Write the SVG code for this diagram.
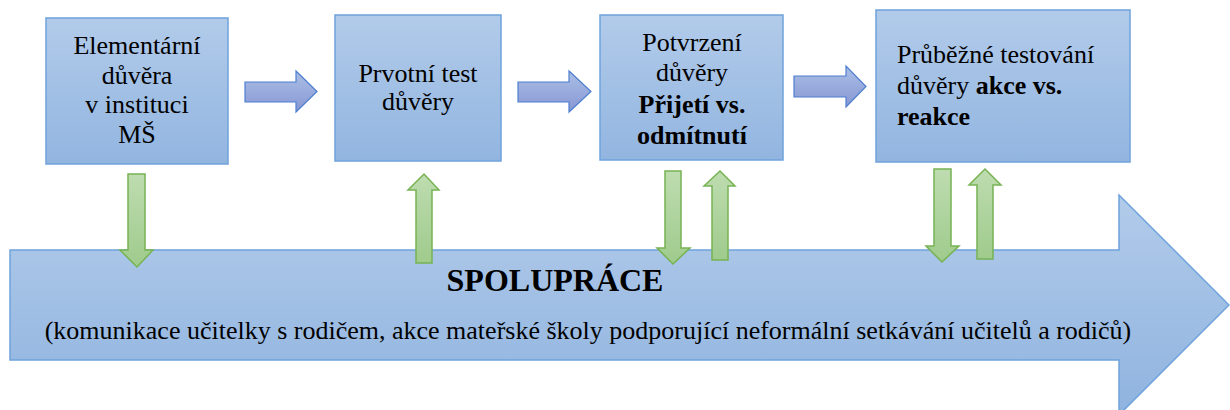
<svg xmlns="http://www.w3.org/2000/svg" width="1230" height="410" viewBox="0 0 1230 410">
  <defs>
    <linearGradient id="boxFill" x1="0" y1="0" x2="0" y2="1">
      <stop offset="0" stop-color="#b2cbea"/>
      <stop offset="1" stop-color="#92b5e0"/>
    </linearGradient>
    <linearGradient id="flowFill" x1="0" y1="0" x2="0" y2="1">
      <stop offset="0" stop-color="#aabfe6"/>
      <stop offset="1" stop-color="#8797d3"/>
    </linearGradient>
    <linearGradient id="greenFill" x1="0" y1="0" x2="0" y2="1">
      <stop offset="0" stop-color="#bedcb0"/>
      <stop offset="1" stop-color="#9fcb8c"/>
    </linearGradient>
    <linearGradient id="bigFill" x1="0" y1="0" x2="0" y2="1">
      <stop offset="0" stop-color="#b2cbea"/>
      <stop offset="1" stop-color="#8fb3df"/>
    </linearGradient>
    <style>
      .box { fill: url(#boxFill); stroke: #6fa3dc; stroke-width: 1.5; }
      .flow { fill: url(#flowFill); stroke: #4f7fcf; stroke-width: 1.2; }
      .green { fill: url(#greenFill); stroke: #77b353; stroke-width: 1.5; }
      .big { fill: url(#bigFill); stroke: #6fa3dc; stroke-width: 1.5; }
      .t { font-size: 26px; }
      .c { text-anchor: middle; }
      .b { font-weight: bold; }
    </style>
  </defs>

  <g font-family="'Liberation Serif', Tinos, 'DejaVu Serif', serif" fill="#000">
  <!-- large cooperation arrow along the bottom -->
  <g id="spoluprace">
    <path class="big" d="M10,250 H1119 V195 L1229,305 L1119,415 V360 H10 Z"/>
    <text x="555" y="291" class="c b" font-size="32">SPOLUPRÁCE</text>
    <text x="588" y="339" class="c" font-size="26">(komunikace učitelky s rodičem, akce mateřské školy podporující neformální setkávání učitelů a rodičů)</text>
  </g>

  <g id="node1">
    <rect class="box" x="46" y="18" width="182" height="146"/>
    <text class="t c" x="137" y="54">Elementární</text>
    <text class="t c" x="137" y="84">důvěra</text>
    <text class="t c" x="137" y="113">v instituci</text>
    <text class="t c" x="137" y="143">MŠ</text>
  </g>

  <g id="node2">
    <rect class="box" x="335" y="15" width="166" height="146"/>
    <text class="t c" x="418" y="82">Prvotní test</text>
    <text class="t c" x="418" y="110">důvěry</text>
  </g>

  <g id="node3">
    <rect class="box" x="600" y="15" width="183" height="145"/>
    <text class="t c" x="692" y="51">Potvrzení</text>
    <text class="t c" x="692" y="81">důvěry</text>
    <text class="t c b" x="692" y="113">Přijetí vs.</text>
    <text class="t c b" x="692" y="144">odmítnutí</text>
  </g>

  <g id="node4">
    <rect class="box" x="876" y="10" width="254" height="152"/>
    <text class="t" x="897" y="63">Průběžné testování</text>
    <text class="t" x="897" y="94">důvěry <tspan class="b">akce vs.</tspan></text>
    <text class="t b" x="897" y="125">reakce</text>
  </g>

  <g id="connectors">
    <!-- process arrows between steps -->
    <path class="flow" d="M245,82 H296 V71 L317,91.5 L296,112 V102 H245 Z"/>
    <path class="flow" d="M518,82 H569 V71 L591,91.5 L569,112 V102 H518 Z"/>
    <path class="flow" d="M794,76 H846 V66 L866,86.5 L846,107 V97 H794 Z"/>
    <!-- exchange arrows between steps and cooperation -->
    <path class="green" d="M128,174 H145 V250 H153 L137,267 L120,250 H128 Z"/>
    <path class="green" d="M416,263 V190 H408 L424,174 L439,190 H432 V263 Z"/>
    <path class="green" d="M665,171 H681 V248 H690 L673,264 L657,248 H665 Z"/>
    <path class="green" d="M712,260 V186 H704 L720,171 L735,186 H728 V260 Z"/>
    <path class="green" d="M934,169 H951 V246 H959 L942,262 L926,246 H934 Z"/>
    <path class="green" d="M977,259 V185 H969 L985,169 L1001,185 H993 V259 Z"/>
  </g>
  </g>
</svg>
